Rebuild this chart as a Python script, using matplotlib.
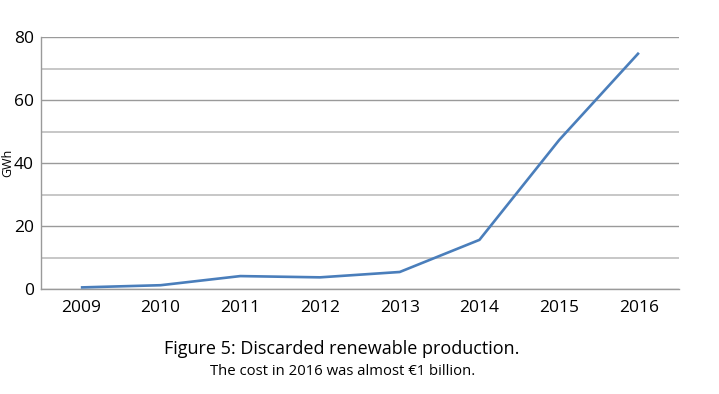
import matplotlib
matplotlib.use("Agg")
import matplotlib.pyplot as plt

plt.rcParams['font.family'] = ['Open Sans', 'DejaVu Sans']

# values
years = ["2009", "2010", "2011", "2012", "2013", "2014", "2015", "2016"]
gwh = [0.5, 1.2, 4.1, 3.7, 5.4, 15.6, 47.3, 75.0]

fig = plt.figure(figsize=(7.19, 3.94), dpi=100)
ax = fig.add_axes([0.057, 0.2665, 0.887, 0.6395])

x = list(range(len(years)))
ax.plot(x, gwh, color="#4a7ebb", linewidth=1.9, solid_capstyle="butt", zorder=3)

ax.set_xlim(-0.5, len(years) - 0.5)
ax.set_ylim(0, 80)
ax.set_xticks(x)
ax.set_xticklabels(years)
ax.set_yticks(range(0, 81, 20))
ax.set_yticks(range(10, 80, 20), minor=True)
ax.tick_params(axis="both", which="both", length=0, labelsize=12.5)
ax.tick_params(axis="x", pad=8)
ax.tick_params(axis="y", pad=5)

ax.grid(axis="y", which="major", color="#9a9a9a", linewidth=1.0)
ax.grid(axis="y", which="minor", color="#bdbdbd", linewidth=1.2)
ax.set_axisbelow(True)

for s in ["top", "right"]:
    ax.spines[s].set_visible(False)
for s in ["left", "bottom"]:
    ax.spines[s].set_color("#9a9a9a")
    ax.spines[s].set_linewidth(1.0)

fig.text(0.011, 0.586, "GWh", rotation=90, ha="center", va="center", fontsize=9)

fig.text(0.476, 0.114, "Figure 5: Discarded renewable production.",
         ha="center", va="center", fontsize=13)
fig.text(0.477, 0.056, "The cost in 2016 was almost €1 billion.",
         ha="center", va="center", fontsize=10.7)

fig.savefig("out.png", dpi=100)
